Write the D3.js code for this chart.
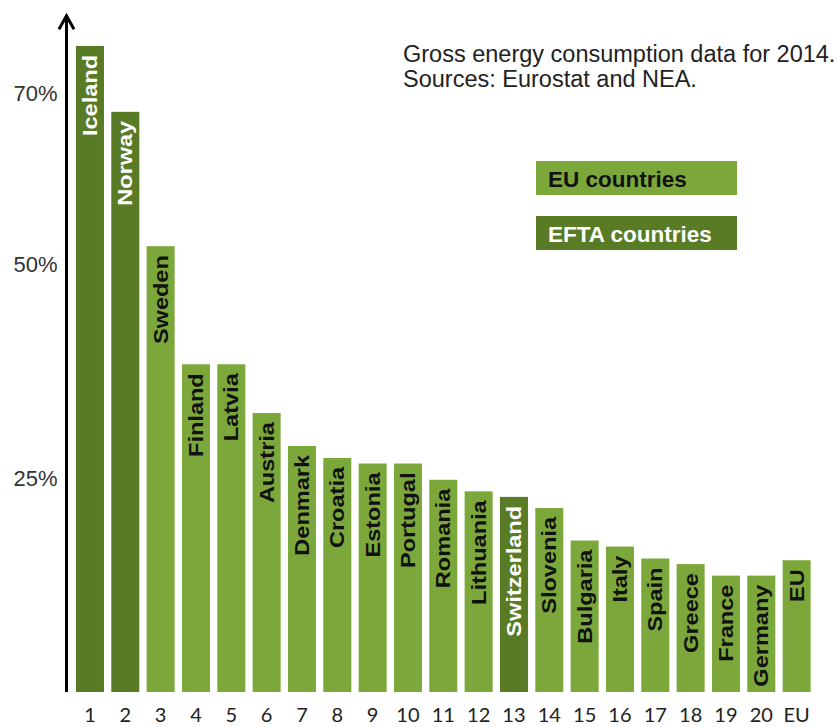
<!DOCTYPE html>
<html>
<head>
<meta charset="utf-8">
<script src="https://cdn.jsdelivr.net/npm/d3@7"></script>
<style>
  body { margin: 0; background: #fff; }
  svg { display: block; }
</style>
</head>
<body>
<div id="chart"></div>
<script>
const width = 838;
const height = 727;

// Renewable share of gross energy consumption, 2014
const countries = ["Iceland", "Norway", "Sweden", "Finland", "Latvia", "Austria", "Denmark",
  "Croatia", "Estonia", "Portugal", "Romania", "Lithuania", "Switzerland", "Slovenia",
  "Bulgaria", "Italy", "Spain", "Greece", "France", "Germany", "EU"];
const shares = [75.5, 67.8, 52.1, 38.3, 38.3, 32.6, 28.75, 27.35, 26.7, 26.7, 24.8, 23.45,
  22.8, 21.5, 17.7, 17.0, 15.6, 14.95, 13.6, 13.6, 15.4];
const groups = ["EFTA", "EFTA", "EU", "EU", "EU", "EU", "EU", "EU", "EU", "EU", "EU", "EU",
  "EFTA", "EU", "EU", "EU", "EU", "EU", "EU", "EU", "EU"];
const ranks = ["1", "2", "3", "4", "5", "6", "7", "8", "9", "10", "11", "12", "13", "14",
  "15", "16", "17", "18", "19", "20", "EU"];
const yTicks = [25, 50, 70];
const legendItems = ["EU countries", "EFTA countries"];
const notes = ["Gross energy consumption data for 2014.", "Sources: Eurostat and NEA."];

const color = d3.scaleOrdinal()
  .domain(["EU", "EFTA"])
  .range(["#7ca83b", "#5a7b26"]);

const labelColor = d3.scaleOrdinal()
  .domain(["EU", "EFTA"])
  .range(["#111", "#fff"]);

const data = countries.map((c, i) => ({ name: c, value: shares[i], group: groups[i], rank: ranks[i] }));

const axisX = 66.5;
const base = 692;

const x = d3.scaleBand()
  .domain(countries)
  .range([72.3, 814.3])
  .paddingInner(0.207)
  .paddingOuter(0.1035);

const y = d3.scaleLinear()
  .domain([0, 70])
  .range([base, 93]);

const svg = d3.select("#chart").append("svg")
  .attr("width", width)
  .attr("height", height);

// bars
svg.append("g")
  .selectAll("rect")
  .data(data)
  .join("rect")
  .attr("x", d => x(d.name))
  .attr("y", d => y(d.value))
  .attr("width", x.bandwidth())
  .attr("height", d => y(0) - y(d.value))
  .attr("fill", d => color(d.group));

// rotated bar labels (slightly stretched along their length, like the original)
svg.append("g")
  .selectAll("text")
  .data(data)
  .join("text")
  .attr("transform", d => `translate(${x(d.name) + x.bandwidth() / 2 + 7},${y(d.value) + 9}) rotate(-90) scale(1.07,0.95)`)
  .attr("text-anchor", "end")
  .attr("font-family", "Liberation Sans, Arial, sans-serif")
  .attr("font-weight", "bold")
  .attr("font-size", 22)
  .attr("fill", d => labelColor(d.group))
  .text(d => d.name);

// y axis: tick labels + arrow
const yAxis = svg.append("g")
  .attr("transform", `translate(${axisX},0)`)
  .call(d3.axisLeft(y).tickValues(yTicks).tickFormat(d => d + "%").tickSize(0).tickPadding(9));
yAxis.select(".domain").remove();
yAxis.selectAll("text")
  .attr("font-family", "Liberation Sans, Arial, sans-serif")
  .attr("font-size", 22)
  .attr("fill", "#333");

const tipY = y(79.2);
svg.append("line")
  .attr("x1", axisX).attr("x2", axisX)
  .attr("y1", base).attr("y2", tipY + 1)
  .attr("stroke", "#000")
  .attr("stroke-width", 3);
svg.append("path")
  .attr("d", `M${axisX - 7.5},${tipY + 15} L${axisX},${tipY + 1.5} L${axisX + 7.5},${tipY + 15}`)
  .attr("fill", "none")
  .attr("stroke", "#000")
  .attr("stroke-width", 3);

// x axis: rank numbers
const xAxis = svg.append("g")
  .attr("transform", `translate(0,${base})`)
  .call(d3.axisBottom(x).tickFormat((d, i) => ranks[i]).tickSize(0).tickPadding(16));
xAxis.select(".domain").remove();
xAxis.selectAll("text")
  .attr("font-family", "Lato, Carlito, sans-serif")
  .attr("font-size", 20)
  .attr("fill", "#222");

// note text
svg.append("g")
  .selectAll("text")
  .data(notes)
  .join("text")
  .attr("x", 403)
  .attr("y", (d, i) => 61.5 + i * 25)
  .attr("font-family", "Liberation Sans, Arial, sans-serif")
  .attr("font-size", 23.5)
  .attr("fill", "#222")
  .text(d => d);

// legend
const legend = svg.append("g")
  .selectAll("g")
  .data(legendItems)
  .join("g")
  .attr("transform", (d, i) => `translate(536,${161 + i * 55})`);

legend.append("rect")
  .attr("width", 201)
  .attr("height", 34)
  .attr("fill", (d, i) => color(["EU", "EFTA"][i]));

legend.append("text")
  .attr("x", 12)
  .attr("y", 25.5)
  .attr("font-family", "Liberation Sans, Arial, sans-serif")
  .attr("font-weight", "bold")
  .attr("font-size", 22.5)
  .attr("fill", (d, i) => labelColor(["EU", "EFTA"][i]))
  .text(d => d);
</script>
</body>
</html>
